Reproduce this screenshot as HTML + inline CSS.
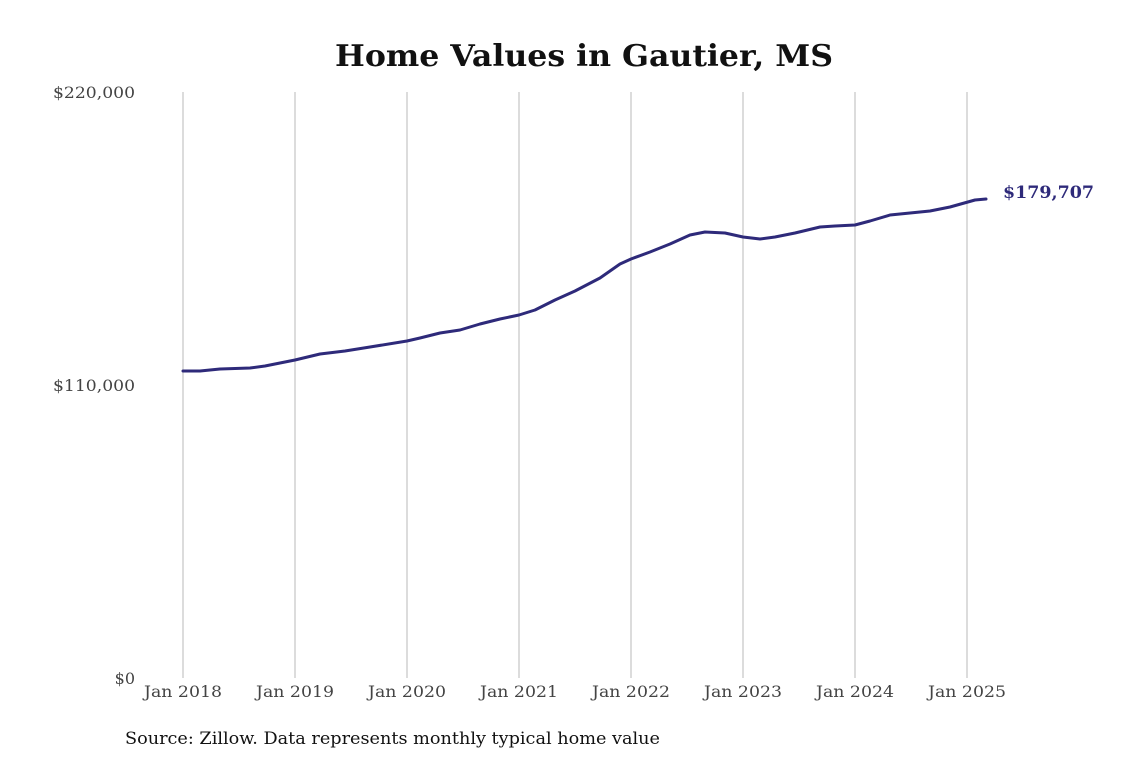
<!DOCTYPE html>
<html><head><meta charset="utf-8"><style>
html,body{margin:0;padding:0;background:#fff;}
svg{display:block;}
</style></head><body>
<svg width="1140" height="760" viewBox="0 0 1140 760" xmlns="http://www.w3.org/2000/svg">
<rect width="1140" height="760" fill="#fff"/>
<text x="584" y="66" text-anchor="middle" font-family="'DejaVu Serif','Liberation Serif',serif" font-weight="bold" font-size="30" fill="#111" textLength="498" lengthAdjust="spacingAndGlyphs">Home Values in Gautier, MS</text>
<g stroke="#c4c4c4" stroke-width="1.2">
<line x1="183" y1="92" x2="183" y2="678"/>
<line x1="295" y1="92" x2="295" y2="678"/>
<line x1="407" y1="92" x2="407" y2="678"/>
<line x1="519" y1="92" x2="519" y2="678"/>
<line x1="631" y1="92" x2="631" y2="678"/>
<line x1="743" y1="92" x2="743" y2="678"/>
<line x1="855" y1="92" x2="855" y2="678"/>
<line x1="967" y1="92" x2="967" y2="678"/>
</g>
<g font-family="'DejaVu Serif','Liberation Serif',serif" font-size="16" fill="#444">
<text x="135" y="98" text-anchor="end" textLength="82" lengthAdjust="spacingAndGlyphs">$220,000</text>
<text x="135" y="391" text-anchor="end" textLength="82" lengthAdjust="spacingAndGlyphs">$110,000</text>
<text x="135" y="684" text-anchor="end">$0</text>
<g text-anchor="middle">
<text x="183" y="697" textLength="78" lengthAdjust="spacingAndGlyphs">Jan 2018</text>
<text x="295" y="697" textLength="78" lengthAdjust="spacingAndGlyphs">Jan 2019</text>
<text x="407" y="697" textLength="78" lengthAdjust="spacingAndGlyphs">Jan 2020</text>
<text x="519" y="697" textLength="78" lengthAdjust="spacingAndGlyphs">Jan 2021</text>
<text x="631" y="697" textLength="78" lengthAdjust="spacingAndGlyphs">Jan 2022</text>
<text x="743" y="697" textLength="78" lengthAdjust="spacingAndGlyphs">Jan 2023</text>
<text x="855" y="697" textLength="78" lengthAdjust="spacingAndGlyphs">Jan 2024</text>
<text x="967" y="697" textLength="78" lengthAdjust="spacingAndGlyphs">Jan 2025</text>
</g>
</g>
<text x="125" y="744" font-family="'DejaVu Serif','Liberation Serif',serif" font-size="17" fill="#111" textLength="535" lengthAdjust="spacingAndGlyphs">Source: Zillow. Data represents monthly typical home value</text>
<polyline fill="none" stroke="#2e2a7a" stroke-width="3" stroke-linejoin="round" stroke-linecap="round"
points="183,371 200,371 220,369 250,368 265,366 295,360 320,354 345,351 370,347 407,341 420,338 440,333 460,330 480,324 500,319 519,315 535,310 555,300 575,291 600,278 620,264 631,259 650,252 670,244 690,235 705,232 725,233 743,237 760,239 775,237 795,233 820,227 835,226 855,225 870,221 890,215 910,213 930,211 950,207 975,200 986,199"/>
<text x="1003" y="198" font-family="'DejaVu Serif','Liberation Serif',serif" font-weight="bold" font-size="17" fill="#2e2a7a" textLength="91" lengthAdjust="spacingAndGlyphs">$179,707</text>
</svg>
</body></html>
